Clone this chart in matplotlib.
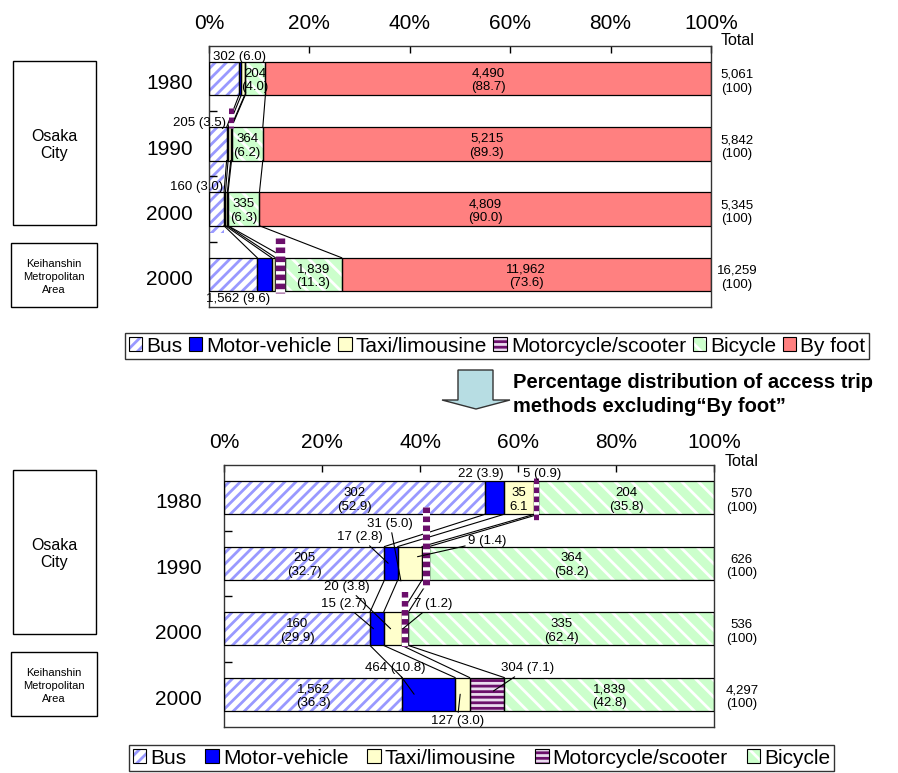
import numpy as np
import matplotlib
matplotlib.use('Agg')
import matplotlib.pyplot as plt
import matplotlib.transforms as mtransforms
from matplotlib.patches import Patch, Rectangle, Polygon

plt.rcParams['font.family'] = ['Liberation Sans', 'DejaVu Sans']
plt.rcParams['hatch.linewidth'] = 2.0
plt.rcParams['lines.scale_dashes'] = False

W, H = 898, 773

# access trips by mode (Osaka City 1980/1990/2000, Keihanshin 2000)
years = ['1980', '1990', '2000', '2000']
modes = ['Bus', 'Motor-vehicle', 'Taxi/limousine', 'Motorcycle/scooter', 'Bicycle', 'By foot']
bus = [302, 205, 160, 1562]
motor_vehicle = [22, 17, 15, 464]
taxi = [35, 31, 20, 127]
motorcycle = [5, 9, 7, 304]
bicycle = [204, 364, 335, 1839]
by_foot = [4490, 5215, 4809, 11962]
total_all = ['5,061', '5,842', '5,345', '16,259']
total_excl = ['570', '626', '536', '4,297']

# shares printed on the chart (%)
bus_pct_all = [6.0, 3.5, 3.0, 9.6]
bicycle_pct_all = [4.0, 6.2, 6.3, 11.3]
foot_pct_all = [88.7, 89.3, 90.0, 73.6]
bus_pct = [52.9, 32.7, 29.9, 36.3]
mv_pct = [3.9, 2.8, 2.7, 10.8]
taxi_pct = [6.1, 5.0, 3.8, 3.0]
moto_pct = [0.9, 1.4, 1.2, 7.1]
bicycle_pct = [35.8, 58.2, 62.4, 42.8]

styles = {
    'Bus': dict(fc='white', hc='#9999ff', hatch='///'),
    'Motor-vehicle': dict(fc='#0000ff', hc='#0000ff', hatch=None),
    'Taxi/limousine': dict(fc='#ffffcc', hc='#ffffcc', hatch=None),
    'Motorcycle/scooter': dict(fc='#eadcef', hc='#6b0f6b', hatch='---'),
    'Bicycle': dict(fc='#ccffcc', hc='white', hatch='\\\\'),
    'By foot': dict(fc='#ff8080', hc='#ff8080', hatch=None),
}
BAR_H = 0.51
LAB = 9.5

fig = plt.figure(figsize=(W / 100, H / 100), dpi=100)


def px_axes(l, t, r, b):
    return fig.add_axes([l / W, 1 - b / H, (r - l) / W, (b - t) / H])


def draw_chart(ax, series, names):
    counts = np.array(series, dtype=float)
    share = counts / counts.sum(axis=0) * 100
    left = np.vstack([np.zeros(counts.shape[1]), np.cumsum(share, axis=0)[:-1]])
    ypos = np.arange(counts.shape[1])
    for k, name in enumerate(names):
        st = styles[name]
        ax.barh(ypos, share[k], left=left[k], height=BAR_H, color=st['fc'],
                edgecolor=st['hc'], hatch=st['hatch'], linewidth=0, zorder=2)
        ax.barh(ypos, share[k], left=left[k], height=BAR_H, fill=False,
                edgecolor='black', linewidth=0.9, zorder=3)
    ends = left + share
    # series lines between bars
    for i in range(len(ypos) - 1):
        for k in range(len(names) - 1):
            ax.plot([ends[k, i], ends[k, i + 1]], [i + BAR_H / 2, i + 1 - BAR_H / 2],
                    color='black', lw=0.8, zorder=3)
    return share, left


def style_axes(ax, year_x):
    ax.set_xlim(0, 100)
    ax.set_ylim(3.5, -0.5)
    ax.xaxis.tick_top()
    ax.set_xticks(np.arange(0, 101, 20))
    ax.set_xticklabels(['{0}%'.format(v) for v in range(0, 101, 20)], fontsize=15)
    ax.tick_params(axis='x', direction='in', length=5, pad=9, width=1)
    ax.set_yticks([])
    ax.set_yticks([0.5, 1.5, 2.5], minor=True)
    ax.tick_params(axis='y', which='minor', direction='in', length=6, width=1)
    for s in ax.spines.values():
        s.set_color('#333333')
        s.set_linewidth(1)
    tr = mtransforms.blended_transform_factory(ax.transAxes, ax.transData)
    for i, y in enumerate(years):
        ax.text(year_x, i + 0.08, y, transform=tr, ha='right', va='center', fontsize=15)
    return tr


def moto_overlay(ax, x0, x1, y0, y1, px_per_unit):
    wpx = max((x1 - x0) * px_per_unit, 5)
    xc = (x0 + x1) / 2
    ax.plot([xc, xc], [y0, y1], color='white', lw=wpx * 0.72, solid_capstyle='butt', zorder=4)
    ax.plot([xc, xc], [y0, y1], color='#6b0f6b', lw=wpx * 0.72, dashes=(4, 2.5),
            dash_capstyle='butt', zorder=5)


# ---------------- top chart: all modes ----------------
ax1 = px_axes(209, 46, 711, 307)
share1, left1 = draw_chart(ax1, [bus, motor_vehicle, taxi, motorcycle, bicycle, by_foot], modes)
tr1 = style_axes(ax1, -0.032)

bus_lab_pos = [(6.0, -0.33), (-1.8, 0.68), (-2.5, 1.66), (5.8, 3.37)]
for i in range(4):
    ax1.text(bus_lab_pos[i][0], bus_lab_pos[i][1], '{0:,} ({1:.1f})'.format(bus[i], bus_pct_all[i]),
             ha='center', va='center', fontsize=LAB, zorder=6)
    xb = left1[4, i] + share1[4, i] / 2
    ax1.text(xb, i + 0.03, '{0:,}\n({1:.1f})'.format(bicycle[i], bicycle_pct_all[i]),
             ha='center', va='center', fontsize=LAB, zorder=6)
    xf = left1[5, i] + share1[5, i] / 2
    ax1.text(xf, i + 0.03, '{0:,}\n({1:.1f})'.format(by_foot[i], foot_pct_all[i]),
             ha='center', va='center', fontsize=LAB, zorder=6)
    ax1.text(1.052, i + 0.05, '{0}\n(100)'.format(total_all[i]), transform=tr1,
             ha='center', va='center', fontsize=LAB)
ax1.text(1.052, 1.02, 'Total', transform=ax1.transAxes, ha='center', va='center', fontsize=11.5)

# misplaced segments as rendered in the original
ax1.bar(left1[0, 2], 1.22, width=share1[0, 2], bottom=1.14, align='edge', color='white',
        edgecolor='#9999ff', hatch='///', linewidth=0, zorder=1.5)
for i, (y0, y1) in {1: (0.45, 0.75), 3: (2.44, 3.28)}.items():
    moto_overlay(ax1, left1[3, i], left1[3, i] + share1[3, i], y0, y1, 5.02)

# ---------------- bottom chart: excluding by foot ----------------
ax2 = px_axes(224, 465, 714, 727)
share2, left2 = draw_chart(ax2, [bus, motor_vehicle, taxi, motorcycle, bicycle], modes[:5])
tr2 = style_axes(ax2, -0.045)

for i in range(4):
    xb = left2[0, i] + share2[0, i] / 2
    ax2.text(xb, i + 0.03, '{0:,}\n({1:.1f})'.format(bus[i], bus_pct[i]),
             ha='center', va='center', fontsize=LAB, zorder=6)
    xc = left2[4, i] + share2[4, i] / 2
    ax2.text(xc, i + 0.03, '{0:,}\n({1:.1f})'.format(bicycle[i], bicycle_pct[i]),
             ha='center', va='center', fontsize=LAB, zorder=6)
    ax2.text(1.057, i + 0.05, '{0}\n(100)'.format(total_excl[i]), transform=tr2,
             ha='center', va='center', fontsize=LAB)
ax2.text(1.057, 1.015, 'Total', transform=ax2.transAxes, ha='center', va='center', fontsize=11.5)

ax2.text(left2[2, 0] + share2[2, 0] / 2, 0.03, '{0}\n{1:.1f}'.format(taxi[0], taxi_pct[0]),
         ha='center', va='center', fontsize=LAB, zorder=6)

small = [motor_vehicle, taxi, motorcycle]
small_pct = [mv_pct, taxi_pct, moto_pct]
# (mode, category, label position, leader end)
notes = [
    (0, 0, (52.4, -0.36), None),
    (2, 0, (64.9, -0.36), None),
    (0, 1, (27.8, 0.60), (33.5, 1.0)),
    (1, 1, (33.9, 0.40), (36.1, 1.27)),
    (2, 1, (53.7, 0.66), (39.5, 0.9)),
    (0, 2, (24.5, 1.62), (30.5, 2.0)),
    (1, 2, (25.1, 1.36), (34.0, 2.0)),
    (2, 2, (42.7, 1.62), (36.5, 2.0)),
    (0, 3, (34.9, 2.60), (38.8, 3.0)),
    (2, 3, (62.0, 2.60), (55.0, 2.95)),
    (1, 3, (47.6, 3.41), (48.2, 3.0)),
]
for m, c, pos, end in notes:
    txt = '{0:,} ({1:.1f})'.format(small[m][c], small_pct[m][c])
    if end is None:
        ax2.text(pos[0], pos[1], txt, ha='center', va='center', fontsize=LAB, zorder=6)
    else:
        ax2.annotate(txt, xy=end, xytext=pos, ha='center', va='center', fontsize=LAB, zorder=6,
                     arrowprops=dict(arrowstyle='-', lw=0.8, color='black', shrinkA=0, shrinkB=0))

for i, (y0, y1) in {0: (-0.30, 0.37), 1: (0.14, 1.38), 2: (1.44, 2.28)}.items():
    moto_overlay(ax2, left2[3, i], left2[3, i] + share2[3, i], y0, y1, 4.9)

# ---------------- area boxes ----------------
def box(l, t, r, b, text, fs, ls):
    fig.patches.append(Rectangle((l / W, 1 - b / H), (r - l) / W, (b - t) / H,
                                 transform=fig.transFigure, fill=False, edgecolor='black', lw=1))
    fig.text((l + r) / 2 / W, 1 - ((t + b) / 2 + 2) / H, text, ha='center', va='center',
             fontsize=fs, linespacing=ls)


box(13, 61, 96, 225, 'Osaka\nCity', 11.5, 1.2)
box(11, 243, 97, 307, 'Keihanshin\nMetropolitan\nArea', 8, 1.35)
box(13, 470, 96, 634, 'Osaka\nCity', 11.5, 1.2)
box(11, 652, 97, 716, 'Keihanshin\nMetropolitan\nArea', 8, 1.35)

# ---------------- legends ----------------
def handles(names):
    out = []
    for n in names:
        st = styles[n]
        fill = Patch(facecolor=st['fc'], edgecolor=st['hc'], hatch=st['hatch'], lw=0)
        frame = Patch(fill=False, edgecolor='black', lw=0.8)
        out.append((fill, frame))
    return out


for names, cx, cy, cs in [(modes, (128 + 866) / 2, 346, 0.3), (modes[:5], (128 + 835) / 2, 758, 0.9)]:
    leg = fig.legend(handles(names), names, loc='center', bbox_to_anchor=(cx / W, 1 - cy / H),
                     ncol=len(names), fontsize=15, frameon=True, fancybox=False,
                     edgecolor='black', handlelength=0.65, handleheight=0.65,
                     handletextpad=0.2, columnspacing=cs, borderpad=0.15, borderaxespad=0)
    leg.get_frame().set_linewidth(1)

# ---------------- arrow and caption ----------------
arrow_px = [(458, 370), (493, 370), (493, 400), (510, 400), (476, 409), (442, 400), (458, 400)]
fig.patches.append(Polygon([(x / W, 1 - y / H) for x, y in arrow_px], closed=True,
                           transform=fig.transFigure, facecolor='#b7dde3',
                           edgecolor='#333333', lw=1))
fig.text(513 / W, 1 - 383 / H, 'Percentage distribution of access trip',
         fontsize=14.5, fontweight='bold', va='center')
fig.text(513 / W, 1 - 406 / H, 'methods excluding\u201cBy foot\u201d',
         fontsize=14.5, fontweight='bold', va='center')

fig.savefig('out.png', dpi=100)
